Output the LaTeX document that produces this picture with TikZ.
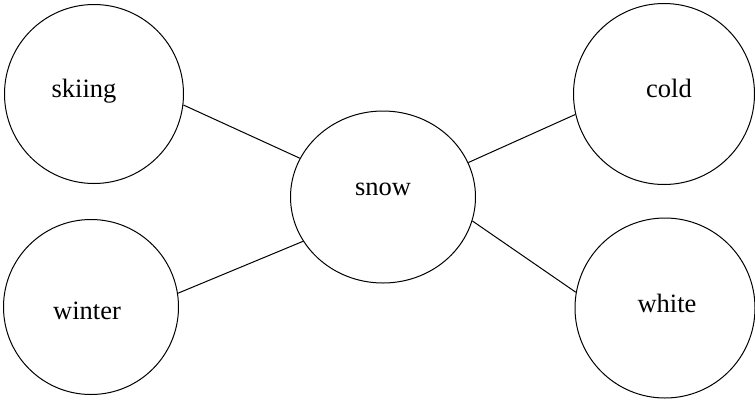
\documentclass[tikz,border=0pt]{standalone}
\usepackage{fontspec}
\setmainfont{Liberation Serif}
\usetikzlibrary{shapes.geometric}
\begin{document}
\begin{tikzpicture}[x=1pt,y=-1pt,
  bub/.style={draw=black,circle,line width=1pt,inner sep=0pt,minimum size=#1},
  oval/.style={draw=black,ellipse,line width=1pt,inner sep=0pt,minimum width=185pt,minimum height=172pt},
  word/.style={font=\fontsize{26.5}{30}\selectfont,inner sep=0pt,anchor=base},
  link/.style={draw=black,line width=1pt}]
\useasboundingbox (0,0) rectangle (755,400);
\node[bub=179pt] (skiing) at (94,94) {};
\node[bub=175pt] (winter) at (91,307) {};
\node[oval] (snow) at (383,197) {};
\node[bub=181pt] (cold) at (664,94) {};
\node[bub=180pt] (white) at (665,308) {};
\node[word] (tskiing) at (84,97) {skiing};
\node[word] (twinter) at (87,319) {winter};
\node[word] (tsnow) at (383,195) {snow};
\node[word] (tcold) at (669,97) {cold};
\node[word] (twhite) at (667,312) {white};
\draw[link] (skiing.-7) -- (snow.155);
\draw[link] (winter.9) -- (snow.209);
\draw[link] (cold.193) -- (snow.22);
\draw[link] (white.170) -- (snow.-15);
\end{tikzpicture}
\end{document}
